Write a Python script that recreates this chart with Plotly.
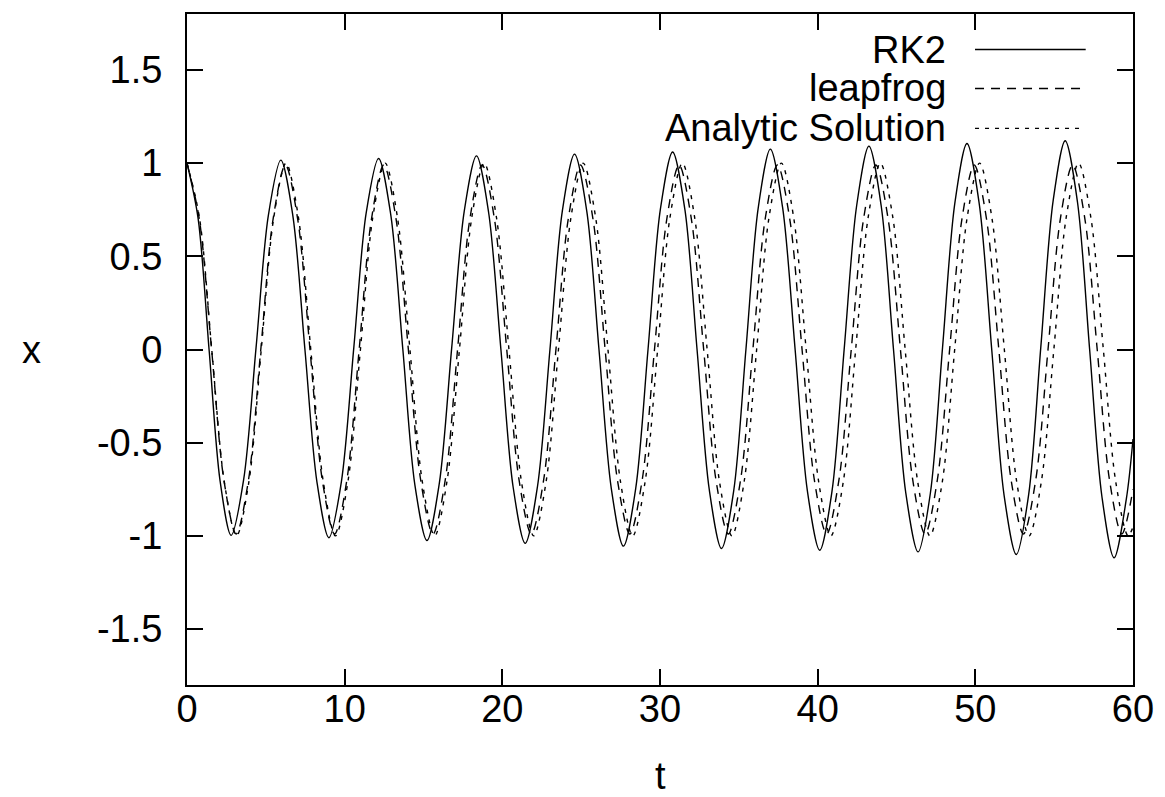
import plotly.graph_objects as go

# ---- data ----
rk2_t = [0, 0.7, 1.4, 2.1, 2.8,
         3.59, 4.38, 5.16, 5.95,
         6.71, 7.48, 8.24, 9.0,
         9.79, 10.58, 11.36, 12.15,
         12.92, 13.69, 14.45, 15.22,
         16.0, 16.79, 17.58, 18.36,
         19.13, 19.91, 20.68, 21.45,
         22.23, 23.02, 23.80, 24.58,
         25.36, 26.13, 26.91, 27.68,
         28.46, 29.24, 30.02, 30.8,
         31.58, 32.35, 33.13, 33.9,
         34.68, 35.45, 36.23, 37.0,
         37.78, 38.57, 39.35, 40.13,
         40.91, 41.69, 42.47, 43.25,
         44.03, 44.81, 45.59, 46.37,
         47.15, 47.92, 48.70, 49.47,
         50.25, 51.04, 51.82, 52.6,
         53.38, 54.15, 54.93, 55.7,
         56.48, 57.25, 58.03, 58.8,
         59.58, 60.0]
rk2_x = [1.0, 0.706, 0.0, -0.706, -0.997,
         -0.70, 0.01, 0.72, 1.016,
         0.72, 0.0, -0.71, -1.01,
         -0.71, 0.01, 0.73, 1.025,
         0.725, 0.0, -0.725, -1.025,
         -0.72, 0.01, 0.74, 1.039,
         0.735, 0.0, -0.735, -1.04,
         -0.735, 0.0, 0.74, 1.048,
         0.74, 0.0, -0.745, -1.055,
         -0.745, 0.0, 0.75, 1.06,
         0.75, 0.0, -0.755, -1.068,
         -0.755, 0.0, 0.76, 1.075,
         0.76, 0.0, -0.76, -1.077,
         -0.76, 0.01, 0.77, 1.091,
         0.77, 0.0, -0.77, -1.086,
         -0.77, 0.01, 0.785, 1.105,
         0.78, 0.0, -0.78, -1.10,
         -0.78, 0.01, 0.795, 1.12,
         0.79, 0.0, -0.79, -1.118,
         -0.80, -0.48]

leap_t = [0, 0.78, 1.56, 2.34, 3.12, 3.90, 4.68, 5.46,
          6.24, 7.02, 7.80, 8.58, 9.36, 10.14, 10.92, 11.70,
          12.48, 13.26, 14.04, 14.82, 15.60, 16.38, 17.16, 17.94,
          18.72, 19.50, 20.28, 21.06, 21.84, 22.62, 23.40, 24.18,
          24.96, 25.75, 26.52, 27.30, 28.09, 28.87, 29.65, 30.43,
          31.21, 31.99, 32.77, 33.55, 34.33, 35.11, 35.89, 36.67,
          37.45, 38.23, 39.01, 39.79, 40.57, 41.35, 42.13, 42.91,
          43.69, 44.47, 45.25, 46.03, 46.81, 47.59, 48.37, 49.15,
          49.93, 50.71, 51.49, 52.27, 53.05, 53.83, 54.61, 55.39,
          56.17, 56.95, 57.73, 58.51, 59.29, 60.0]
leap_x = [1.0, 0.70, 0.0, -0.70, -0.99, -0.70, 0.0, 0.70,
          0.99, 0.70, 0.0, -0.70, -0.99, -0.70, 0.0, 0.70,
          0.99, 0.70, 0.0, -0.70, -0.99, -0.70, 0.0, 0.70,
          0.99, 0.70, 0.0, -0.70, -0.99, -0.70, 0.0, 0.70,
          0.99, 0.70, 0.0, -0.70, -0.99, -0.70, 0.0, 0.70,
          0.99, 0.70, 0.0, -0.70, -0.99, -0.70, 0.0, 0.70,
          0.99, 0.70, 0.0, -0.70, -0.99, -0.70, 0.0, 0.70,
          0.99, 0.70, 0.0, -0.70, -0.99, -0.70, 0.0, 0.70,
          0.99, 0.70, 0.0, -0.70, -0.99, -0.70, 0.0, 0.70,
          0.99, 0.70, 0.0, -0.70, -0.99, -0.75]

ana_t = [0, 0.79, 1.57, 2.36, 3.14, 3.93, 4.71, 5.50,
         6.28, 7.07, 7.85, 8.64, 9.42, 10.21, 11.00, 11.78,
         12.57, 13.35, 14.14, 14.92, 15.71, 16.49, 17.28, 18.06,
         18.85, 19.63, 20.42, 21.21, 21.99, 22.78, 23.56, 24.35,
         25.13, 25.92, 26.70, 27.49, 28.27, 29.06, 29.85, 30.63,
         31.42, 32.20, 32.99, 33.77, 34.56, 35.34, 36.13, 36.91,
         37.70, 38.48, 39.27, 40.06, 40.84, 41.63, 42.41, 43.20,
         43.98, 44.77, 45.55, 46.34, 47.12, 47.91, 48.69, 49.48,
         50.27, 51.05, 51.84, 52.62, 53.41, 54.19, 54.98, 55.76,
         56.55, 57.33, 58.12, 58.90, 59.69, 60.0]
ana_x = [1.0, 0.707, 0.0, -0.707, -1.0, -0.707, 0.0, 0.707,
         1.0, 0.707, 0.0, -0.707, -1.0, -0.707, 0.0, 0.707,
         1.0, 0.707, 0.0, -0.707, -1.0, -0.707, 0.0, 0.707,
         1.0, 0.707, 0.0, -0.707, -1.0, -0.707, 0.0, 0.707,
         1.0, 0.707, 0.0, -0.707, -1.0, -0.707, 0.0, 0.707,
         1.0, 0.707, 0.0, -0.707, -1.0, -0.707, 0.0, 0.707,
         1.0, 0.707, 0.0, -0.707, -1.0, -0.707, 0.0, 0.707,
         1.0, 0.707, 0.0, -0.707, -1.0, -0.707, 0.0, 0.707,
         1.0, 0.707, 0.0, -0.707, -1.0, -0.707, 0.0, 0.707,
         1.0, 0.707, 0.0, -0.707, -1.0, -0.952]

series_names = ["RK2", "leapfrog", "Analytic Solution"]
x_ticks = [0, 10, 20, 30, 40, 50, 60]
x_ticktext = ["0", "10", "20", "30", "40", "50", "60"]
y_ticks = [-1.5, -1, -0.5, 0, 0.5, 1, 1.5]
y_ticktext = ["-1.5", "-1", "-0.5", "0", "0.5", "1", "1.5"]

FONT = "Liberation Sans, Arial, Helvetica, sans-serif"
FS = 38
dashes = ["solid", "9px,7px", "4px,6px"]

fig = go.Figure()
for name, tt, xx, dash in zip(series_names, [rk2_t, leap_t, ana_t],
                              [rk2_x, leap_x, ana_x], dashes):
    fig.add_trace(go.Scatter(x=tt, y=xx, mode="lines", name=name,
                             line=dict(color="black", width=1.4, dash=dash,
                                       shape="spline", smoothing=0.9),
                             showlegend=False))

# gnuplot-style key: text on the left, line sample on the right
key_y = [0.947, 0.889, 0.8296]
for name, dash, ky in zip(series_names, dashes, key_y):
    fig.add_annotation(x=0.8044, y=ky, xref="paper", yref="paper",
                       text=name, showarrow=False, xanchor="right",
                       yanchor="middle", font=dict(family=FONT, size=FS, color="black"))
    fig.add_shape(type="line", xref="paper", yref="paper",
                  x0=0.833, x1=0.950 if dash != "4px,6px" else 0.943,
                  y0=ky, y1=ky,
                  line=dict(color="black", width=1.4, dash=dash))

axis_common = dict(showline=True, linecolor="black", linewidth=2, mirror="allticks",
                   ticks="inside", ticklen=16, tickwidth=2, tickcolor="black",
                   showgrid=False, zeroline=False,
                   tickfont=dict(family=FONT, size=FS, color="black"))

fig.update_xaxes(range=[0, 60], tickvals=x_ticks, ticktext=x_ticktext,
                 ticklabelstandoff=-11, **axis_common)
fig.update_yaxes(range=[-1.8, 1.8], tickvals=y_ticks, ticktext=y_ticktext,
                 ticklabelstandoff=15, **axis_common)

fig.add_annotation(x=0.5, y=-0.135, xref="paper", yref="paper", text="t",
                   showarrow=False, xanchor="center", yanchor="middle",
                   font=dict(family=FONT, size=FS, color="black"))
fig.add_annotation(x=-0.164, y=0.5, xref="paper", yref="paper", text="x",
                   showarrow=False, xanchor="center", yanchor="middle",
                   font=dict(family=FONT, size=FS, color="black"))

# page body has an 8px margin: shift/shrink so the plot box lands where the reference has it
fig.update_layout(width=1157, height=789,
                  margin=dict(l=179, r=32, t=4, b=112),
                  plot_bgcolor="white", paper_bgcolor="white",
                  font=dict(family=FONT, size=FS, color="black"))

fig.write_html("out.html")
